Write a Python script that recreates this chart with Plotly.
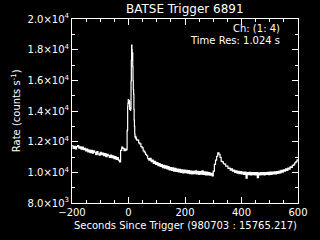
import plotly.graph_objects as go

# ---- data (time in s since trigger, rate in counts/s) ----
pre_times = [-200, -196, -192, -188, -184, -180, -176, -172, -168, -164, -160, -156,
             -152, -148, -144, -140, -136, -132, -128, -124, -120, -116, -112, -108,
             -104, -100, -96, -92, -88, -84, -80, -76, -72, -68, -64, -60, -56, -52,
             -48, -44, -40, -36, -32, -28, -24, -20, -16, -12, -8]
pre_rates = [11720, 11560, 11700, 11530, 11680, 11750, 11570, 11660, 11510, 11640, 11480, 11560,
             11390, 11520, 11330, 11450, 11280, 11430, 11250, 11400, 11310, 11160, 11350, 11200,
             11120, 11310, 11150, 11260, 11080, 11220, 11030, 11180, 11090, 10970, 11130, 10960,
             11080, 10900, 11020, 10850, 10960, 10800, 10680, 11430, 11640, 11560, 11420, 11520, 11450]

burst_times = [-6, -5, -4, -3, -2, -1, 0, 1, 2, 3, 4, 5, 6, 7, 8, 9, 10, 11, 12, 13, 14,
               15, 16, 17, 18, 19, 20, 21, 22, 23, 24, 25, 26, 27, 28, 29, 30]
burst_rates = [11520, 12700, 12750, 14300, 14500, 14750, 14650, 14500, 14700, 14600, 14100,
               14150, 14200, 14050, 14150, 15950, 17300, 18300, 18000, 17600, 17800, 16900,
               16000, 15400, 15100, 14100, 13400, 13000, 12500, 12300, 12280, 12350, 12200,
               12250, 12150, 12100, 12120]

post_times = [32, 36, 40, 44, 48, 52, 56, 60, 64, 68, 72, 76, 80, 84, 88, 92, 96, 100,
              104, 108, 112, 116, 120, 124, 128, 132, 136, 140, 144, 148, 152, 156, 160,
              164, 168, 172, 176, 180, 184, 188, 192, 196, 200, 204, 208, 212, 216, 220,
              224, 228, 232, 236, 240, 244, 248, 252, 256, 260, 264, 268, 272, 276, 280,
              284, 288, 292, 296, 300, 304, 308, 312, 316, 320, 324, 328, 332, 336, 340,
              344, 348, 352, 356, 360, 364, 368, 372, 376, 380, 384, 388, 392, 396, 400,
              404, 408, 412, 416, 420, 424, 428, 432, 436, 440, 444, 448, 452, 456, 460,
              464, 468, 472, 476, 480, 484, 488, 492, 496, 500, 504, 508, 512, 516, 520,
              524, 528, 532, 536, 540, 544, 548, 552, 556, 560, 564, 568, 572, 576, 580,
              584, 588, 592, 596, 600]
post_rates = [12100, 11920, 11850, 11680, 11590, 11400, 11320, 11170, 11080, 10900, 10800,
              10910, 10690, 10800, 10590, 10720, 10510, 10640, 10430, 10570, 10380, 10500,
              10310, 10460, 10280, 10420, 10220, 10380, 10160, 10310, 10130, 10290, 10080,
              10260, 10060, 10210, 10030, 10190, 9990, 10160, 9960, 10140, 9980, 10130,
              9940, 10110, 9920, 10080, 9900, 10070, 9920, 10090, 9890, 10060, 9860, 10050,
              9880, 10090, 9860, 10030, 9840, 10010, 9830, 9990, 9810, 9930, 9760, 10080,
              10520, 10790, 11050, 11270, 11180, 10980, 10720, 10680, 10560, 10530, 10410,
              10400, 10260, 10280, 10150, 10230, 10070, 10150, 9990, 10100, 9940, 10070,
              9910, 10040, 9890, 10020, 9870, 10010, 9620, 9990, 9850, 10000, 9840, 9990, 9850,
              9980, 9830, 9990, 9660, 9960, 9840, 9990, 9850, 9980, 9840, 9990, 9860, 10000,
              9850, 10010, 9870, 10020, 9890, 10030, 9900, 10050, 9930, 10080, 9970, 10130,
              10010, 10170, 10070, 10230, 10120, 10280, 10200, 10350, 10320, 10450, 10480,
              10610, 10680, 10800, 10860]

x_ticks = [-200, 0, 200, 400, 600]
y_ticks = [8000, 10000, 12000, 14000, 16000, 18000, 20000]
y_ticktext = ["8.0×10<sup>3</sup>", "1.0×10<sup>4</sup>", "1.2×10<sup>4</sup>",
              "1.4×10<sup>4</sup>", "1.6×10<sup>4</sup>", "1.8×10<sup>4</sup>",
              "2.0×10<sup>4</sup>"]

title_text = "BATSE Trigger 6891"
x_title = "Seconds Since Trigger (980703 : 15765.217)"
y_title = "Rate (counts s<sup>-1</sup>)"
info_lines = ["Ch: (1: 4)", "Time Res: 1.024 s"]

times = pre_times + burst_times + post_times
rates = pre_rates + burst_rates + post_rates

FONT = "DejaVu Sans"

fig = go.Figure()
fig.add_trace(go.Scatter(x=times, y=rates, mode="lines", line_shape="hv",
                         line=dict(color="white", width=1.2), showlegend=False,
                         hoverinfo="skip"))

axis_common = dict(showgrid=False, zeroline=False, showline=True, linecolor="white",
                   linewidth=1, mirror="ticks", ticks="inside", tickcolor="white",
                   ticklen=6, tickwidth=1, tickfont=dict(family=FONT, size=10, color="white"))

fig.update_layout(
    width=320, height=240,
    margin=dict(l=72, r=17, t=17, b=37),
    paper_bgcolor="black", plot_bgcolor="black",
    xaxis=dict(range=[-200, 600], tickvals=x_ticks, ticktext=[str(v).replace("-", "−") for v in x_ticks],
               minor=dict(dtick=50, tick0=0, ticklen=3, ticks="inside", tickcolor="white", showgrid=False),
               **axis_common),
    yaxis=dict(range=[8000, 20000], tickvals=y_ticks, ticktext=y_ticktext,
               minor=dict(dtick=1000, tick0=0, ticklen=3, ticks="inside", tickcolor="white", showgrid=False),
               **axis_common),
    annotations=[
        dict(text=title_text, xref="paper", yref="paper", x=0.5, y=1.053, xanchor="center",
             yanchor="middle", showarrow=False, font=dict(family=FONT, size=12, color="white")),
        dict(text=x_title, xref="paper", yref="paper", x=0.5, y=-0.123, xanchor="center",
             yanchor="middle", showarrow=False, font=dict(family=FONT, size=10, color="white")),
        dict(text=y_title, xref="paper", yref="paper", x=-0.247, y=0.5, xanchor="center",
             yanchor="middle", textangle=-90, showarrow=False,
             font=dict(family=FONT, size=10, color="white")),
        dict(text=info_lines[0], xref="paper", yref="paper", x=0.928, y=0.948, xanchor="right",
             yanchor="middle", showarrow=False, font=dict(family=FONT, size=10, color="white")),
        dict(text=info_lines[1], xref="paper", yref="paper", x=0.928, y=0.883, xanchor="right",
             yanchor="middle", showarrow=False, font=dict(family=FONT, size=10, color="white")),
    ],
)

fig.write_html("out.html")
